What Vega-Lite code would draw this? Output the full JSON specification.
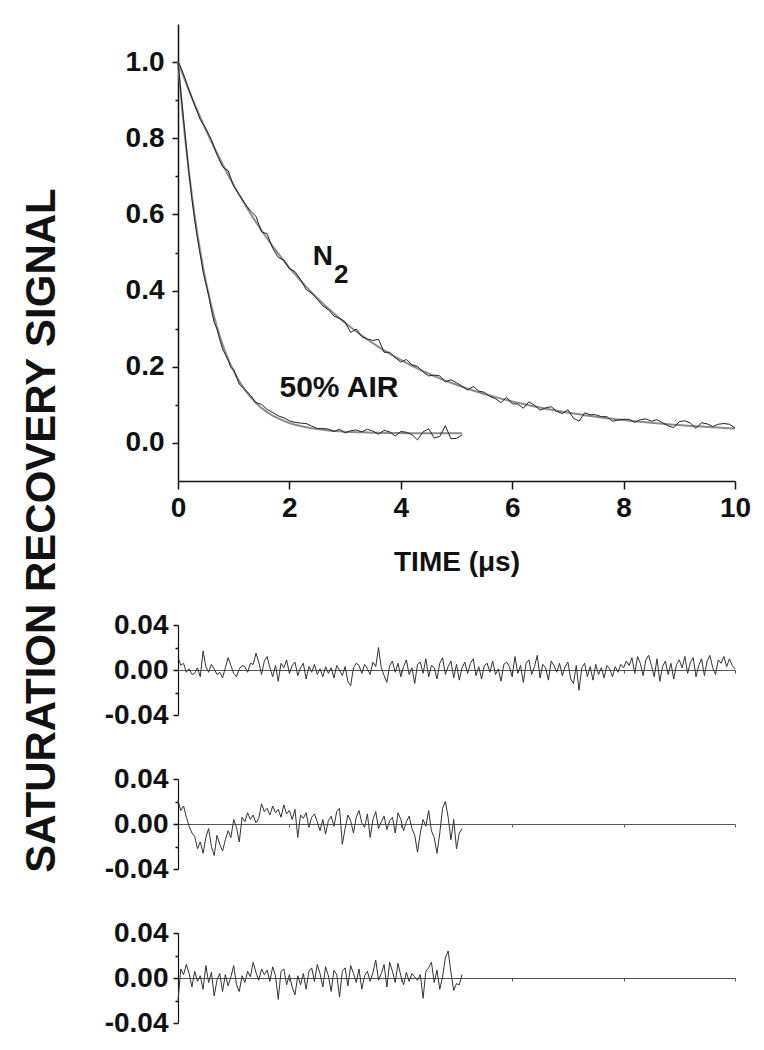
{
  "$schema": "https://vega.github.io/schema/vega-lite/v6.json",
  "background": "white",
  "padding": {"left": 21, "top": 24, "right": 5, "bottom": 5},
  "config": {
    "view": {"stroke": null},
    "font": "Liberation Sans",
    "axis": {
      "domainColor": "#111", "domainWidth": 1.5, "tickColor": "#111", "tickWidth": 1.5,
      "labelFont": "Liberation Sans", "labelFontSize": 28, "labelFontWeight": "bold", "labelColor": "#111",
      "titleFont": "Liberation Sans", "titleFontSize": 28, "titleFontWeight": "bold", "titleColor": "#111",
      "grid": false, "labelFlush": false, "labelOverlap": false
    }
  },
  "title": {"text": "SATURATION RECOVERY SIGNAL", "orient": "left", "anchor": "middle", "fontSize": 42, "fontWeight": "bold", "font": "Liberation Sans", "color": "#111", "offset": 40},
  "bounds": "flush",
  "spacing": 144,
  "datasets": {
    "n2": [
      {"t":0,"fit":1.0,"obs":1.004},{"t":0.1,"fit":0.9616,"obs":0.968},{"t":0.2,"fit":0.9247,"obs":0.926},{"t":0.3,"fit":0.8892,"obs":0.886},{"t":0.4,"fit":0.8551,"obs":0.849},
      {"t":0.5,"fit":0.8224,"obs":0.825},{"t":0.6,"fit":0.7909,"obs":0.796},{"t":0.7,"fit":0.7607,"obs":0.757},{"t":0.8,"fit":0.7316,"obs":0.725},{"t":0.9,"fit":0.7037,"obs":0.715},
      {"t":1.0,"fit":0.6769,"obs":0.674},{"t":1.1,"fit":0.6512,"obs":0.652},{"t":1.2,"fit":0.6264,"obs":0.629},{"t":1.3,"fit":0.6026,"obs":0.609},{"t":1.4,"fit":0.5798,"obs":0.595},
      {"t":1.5,"fit":0.5578,"obs":0.554},{"t":1.6,"fit":0.5367,"obs":0.549},{"t":1.7,"fit":0.5165,"obs":0.511},{"t":1.8,"fit":0.497,"obs":0.487},{"t":1.9,"fit":0.4783,"obs":0.48},
      {"t":2.0,"fit":0.4603,"obs":0.457},{"t":2.1,"fit":0.4431,"obs":0.45},{"t":2.2,"fit":0.4265,"obs":0.429},{"t":2.3,"fit":0.4105,"obs":0.403},{"t":2.4,"fit":0.3952,"obs":0.393},
      {"t":2.5,"fit":0.3805,"obs":0.377},{"t":2.6,"fit":0.3664,"obs":0.36},{"t":2.7,"fit":0.3528,"obs":0.35},{"t":2.8,"fit":0.3398,"obs":0.333},{"t":2.9,"fit":0.3272,"obs":0.327},
      {"t":3.0,"fit":0.3152,"obs":0.318},{"t":3.1,"fit":0.3036,"obs":0.29},{"t":3.2,"fit":0.2925,"obs":0.299},{"t":3.3,"fit":0.2818,"obs":0.279},{"t":3.4,"fit":0.2715,"obs":0.273},
      {"t":3.5,"fit":0.2617,"obs":0.269},{"t":3.6,"fit":0.2522,"obs":0.272},{"t":3.7,"fit":0.2431,"obs":0.238},{"t":3.8,"fit":0.2343,"obs":0.238},{"t":3.9,"fit":0.2259,"obs":0.224},
      {"t":4.0,"fit":0.2179,"obs":0.212},{"t":4.1,"fit":0.2101,"obs":0.219},{"t":4.2,"fit":0.2026,"obs":0.205},{"t":4.3,"fit":0.1955,"obs":0.201},{"t":4.4,"fit":0.1886,"obs":0.186},
      {"t":4.5,"fit":0.182,"obs":0.176},{"t":4.6,"fit":0.1756,"obs":0.178},{"t":4.7,"fit":0.1695,"obs":0.176},{"t":4.8,"fit":0.1637,"obs":0.16},{"t":4.9,"fit":0.158,"obs":0.166},
      {"t":5.0,"fit":0.1526,"obs":0.158},{"t":5.1,"fit":0.1474,"obs":0.149},{"t":5.2,"fit":0.1424,"obs":0.139},{"t":5.3,"fit":0.1376,"obs":0.148},{"t":5.4,"fit":0.133,"obs":0.136},
      {"t":5.5,"fit":0.1286,"obs":0.133},{"t":5.6,"fit":0.1243,"obs":0.122},{"t":5.7,"fit":0.1202,"obs":0.116},{"t":5.8,"fit":0.1163,"obs":0.106},{"t":5.9,"fit":0.1125,"obs":0.12},
      {"t":6.0,"fit":0.1089,"obs":0.103},{"t":6.1,"fit":0.1054,"obs":0.102},{"t":6.2,"fit":0.1021,"obs":0.091},{"t":6.3,"fit":0.0989,"obs":0.108},{"t":6.4,"fit":0.0958,"obs":0.099},
      {"t":6.5,"fit":0.0928,"obs":0.086},{"t":6.6,"fit":0.0899,"obs":0.092},{"t":6.7,"fit":0.0872,"obs":0.095},{"t":6.8,"fit":0.0846,"obs":0.083},{"t":6.9,"fit":0.082,"obs":0.077},
      {"t":7.0,"fit":0.0796,"obs":0.087},{"t":7.1,"fit":0.0773,"obs":0.065},{"t":7.2,"fit":0.075,"obs":0.057},{"t":7.3,"fit":0.0729,"obs":0.079},{"t":7.4,"fit":0.0708,"obs":0.074},
      {"t":7.5,"fit":0.0688,"obs":0.074},{"t":7.6,"fit":0.0669,"obs":0.069},{"t":7.7,"fit":0.065,"obs":0.069},{"t":7.8,"fit":0.0633,"obs":0.057},{"t":7.9,"fit":0.0616,"obs":0.06},
      {"t":8.0,"fit":0.0599,"obs":0.062},{"t":8.1,"fit":0.0584,"obs":0.062},{"t":8.2,"fit":0.0569,"obs":0.054},{"t":8.3,"fit":0.0554,"obs":0.061},{"t":8.4,"fit":0.054,"obs":0.063},
      {"t":8.5,"fit":0.0527,"obs":0.057},{"t":8.6,"fit":0.0514,"obs":0.061},{"t":8.7,"fit":0.0502,"obs":0.053},{"t":8.8,"fit":0.049,"obs":0.045},{"t":8.9,"fit":0.0479,"obs":0.04},
      {"t":9.0,"fit":0.0468,"obs":0.056},{"t":9.1,"fit":0.0457,"obs":0.058},{"t":9.2,"fit":0.0447,"obs":0.052},{"t":9.3,"fit":0.0437,"obs":0.038},{"t":9.4,"fit":0.0428,"obs":0.053},
      {"t":9.5,"fit":0.0419,"obs":0.05},{"t":9.6,"fit":0.0411,"obs":0.043},{"t":9.7,"fit":0.0402,"obs":0.049},{"t":9.8,"fit":0.0394,"obs":0.051},{"t":9.9,"fit":0.0387,"obs":0.049},
      {"t":10.0,"fit":0.038,"obs":0.039}
    ],
    "air": [
      {"t":0,"fit":1.0,"obs":1.0},{"t":0.05,"fit":0.9167,"obs":0.923},{"t":0.1,"fit":0.8405,"obs":0.849},{"t":0.15,"fit":0.7709,"obs":0.777},{"t":0.2,"fit":0.7072,"obs":0.705},
      {"t":0.25,"fit":0.6489,"obs":0.641},{"t":0.3,"fit":0.5956,"obs":0.585},{"t":0.35,"fit":0.5469,"obs":0.536},{"t":0.4,"fit":0.5023,"obs":0.494},{"t":0.45,"fit":0.4615,"obs":0.449},
      {"t":0.5,"fit":0.4242,"obs":0.418},{"t":0.55,"fit":0.3901,"obs":0.388},{"t":0.6,"fit":0.3589,"obs":0.349},{"t":0.65,"fit":0.3304,"obs":0.316},{"t":0.7,"fit":0.3043,"obs":0.299},
      {"t":0.75,"fit":0.2805,"obs":0.271},{"t":0.8,"fit":0.2587,"obs":0.247},{"t":0.85,"fit":0.2387,"obs":0.232},{"t":0.9,"fit":0.2204,"obs":0.217},{"t":0.95,"fit":0.2037,"obs":0.198},
      {"t":1.0,"fit":0.1885,"obs":0.193},{"t":1.1,"fit":0.1617,"obs":0.154},{"t":1.2,"fit":0.1394,"obs":0.141},{"t":1.3,"fit":0.1207,"obs":0.125},{"t":1.4,"fit":0.105,"obs":0.106},
      {"t":1.5,"fit":0.0919,"obs":0.101},{"t":1.6,"fit":0.081,"obs":0.088},{"t":1.7,"fit":0.0718,"obs":0.08},{"t":1.8,"fit":0.0642,"obs":0.071},{"t":1.9,"fit":0.0578,"obs":0.066},
      {"t":2.0,"fit":0.0524,"obs":0.058},{"t":2.1,"fit":0.0479,"obs":0.054},{"t":2.2,"fit":0.0442,"obs":0.052},{"t":2.3,"fit":0.0411,"obs":0.051},{"t":2.4,"fit":0.0384,"obs":0.044},
      {"t":2.5,"fit":0.0362,"obs":0.038},{"t":2.6,"fit":0.0344,"obs":0.038},{"t":2.7,"fit":0.0329,"obs":0.036},{"t":2.8,"fit":0.0316,"obs":0.03},{"t":2.9,"fit":0.0305,"obs":0.036},
      {"t":3.0,"fit":0.0296,"obs":0.026},{"t":3.1,"fit":0.0288,"obs":0.032},{"t":3.2,"fit":0.0282,"obs":0.034},{"t":3.3,"fit":0.0277,"obs":0.029},{"t":3.4,"fit":0.0273,"obs":0.036},
      {"t":3.5,"fit":0.0269,"obs":0.031},{"t":3.6,"fit":0.0266,"obs":0.023},{"t":3.7,"fit":0.0263,"obs":0.033},{"t":3.8,"fit":0.0261,"obs":0.029},{"t":3.9,"fit":0.0259,"obs":0.018},
      {"t":4.0,"fit":0.0258,"obs":0.03},{"t":4.1,"fit":0.0256,"obs":0.028},{"t":4.2,"fit":0.0255,"obs":0.022},{"t":4.3,"fit":0.0254,"obs":0.008},{"t":4.4,"fit":0.0254,"obs":0.029},
      {"t":4.5,"fit":0.0253,"obs":0.037},{"t":4.6,"fit":0.0253,"obs":0.013},{"t":4.7,"fit":0.0252,"obs":0.017},{"t":4.8,"fit":0.0252,"obs":0.045},{"t":4.9,"fit":0.0252,"obs":0.011},
      {"t":5.0,"fit":0.0251,"obs":0.012},{"t":5.1,"fit":0.0251,"obs":0.021}
    ],
    "r1": [
      {"t":0,"r":0.012},{"t":0.05,"r":0.004},{"t":0.1,"r":0.006},{"t":0.15,"r":-0.002},{"t":0.2,"r":0.001},{"t":0.25,"r":-0.004},{"t":0.3,"r":-0.003},{"t":0.35,"r":0.002},{"t":0.4,"r":-0.006},{"t":0.45,"r":0.017},
      {"t":0.5,"r":0.003},{"t":0.55,"r":-0.002},{"t":0.6,"r":0.005},{"t":0.65,"r":0.001},{"t":0.7,"r":-0.004},{"t":0.75,"r":-0.002},{"t":0.8,"r":-0.007},{"t":0.85,"r":0.002},{"t":0.9,"r":0.011},{"t":0.95,"r":0.004},
      {"t":1,"r":-0.003},{"t":1.05,"r":-0.006},{"t":1.1,"r":0.001},{"t":1.15,"r":0.004},{"t":1.2,"r":0.003},{"t":1.25,"r":-0.002},{"t":1.3,"r":0.006},{"t":1.35,"r":0.005},{"t":1.4,"r":0.015},{"t":1.45,"r":0.007},
      {"t":1.5,"r":-0.004},{"t":1.55,"r":0.008},{"t":1.6,"r":0.012},{"t":1.65,"r":0.002},{"t":1.7,"r":-0.006},{"t":1.75,"r":0.004},{"t":1.8,"r":-0.01},{"t":1.85,"r":0.006},{"t":1.9,"r":0.002},{"t":1.95,"r":0.009},
      {"t":2,"r":-0.003},{"t":2.05,"r":0.004},{"t":2.1,"r":0.007},{"t":2.15,"r":-0.005},{"t":2.2,"r":0.002},{"t":2.25,"r":0.006},{"t":2.3,"r":-0.008},{"t":2.35,"r":0.003},{"t":2.4,"r":-0.002},{"t":2.45,"r":0.005},
      {"t":2.5,"r":-0.004},{"t":2.55,"r":0.001},{"t":2.6,"r":-0.006},{"t":2.65,"r":0.003},{"t":2.7,"r":-0.003},{"t":2.75,"r":0.002},{"t":2.8,"r":-0.007},{"t":2.85,"r":0.004},{"t":2.9,"r":0.0},{"t":2.95,"r":-0.005},
      {"t":3,"r":0.003},{"t":3.05,"r":-0.01},{"t":3.1,"r":-0.014},{"t":3.15,"r":0.002},{"t":3.2,"r":0.006},{"t":3.25,"r":0.004},{"t":3.3,"r":-0.003},{"t":3.35,"r":0.005},{"t":3.4,"r":0.001},{"t":3.45,"r":-0.004},
      {"t":3.5,"r":0.007},{"t":3.55,"r":0.003},{"t":3.6,"r":0.02},{"t":3.65,"r":0.002},{"t":3.7,"r":-0.005},{"t":3.75,"r":-0.011},{"t":3.8,"r":0.004},{"t":3.85,"r":0.008},{"t":3.9,"r":-0.002},{"t":3.95,"r":0.006},
      {"t":4,"r":-0.006},{"t":4.05,"r":0.003},{"t":4.1,"r":0.009},{"t":4.15,"r":-0.004},{"t":4.2,"r":0.002},{"t":4.25,"r":-0.012},{"t":4.3,"r":0.005},{"t":4.35,"r":0.007},{"t":4.4,"r":-0.003},{"t":4.45,"r":0.01},
      {"t":4.5,"r":-0.006},{"t":4.55,"r":0.004},{"t":4.6,"r":0.002},{"t":4.65,"r":-0.008},{"t":4.7,"r":0.006},{"t":4.75,"r":0.011},{"t":4.8,"r":-0.004},{"t":4.85,"r":0.003},{"t":4.9,"r":0.008},{"t":4.95,"r":-0.007},
      {"t":5,"r":0.005},{"t":5.05,"r":-0.009},{"t":5.1,"r":0.002},{"t":5.15,"r":0.007},{"t":5.2,"r":-0.003},{"t":5.25,"r":0.006},{"t":5.3,"r":0.01},{"t":5.35,"r":-0.005},{"t":5.4,"r":0.003},{"t":5.45,"r":-0.008},
      {"t":5.5,"r":0.004},{"t":5.55,"r":0.006},{"t":5.6,"r":-0.002},{"t":5.65,"r":0.008},{"t":5.7,"r":-0.004},{"t":5.75,"r":0.001},{"t":5.8,"r":-0.01},{"t":5.85,"r":0.005},{"t":5.9,"r":0.007},{"t":5.95,"r":0.003},
      {"t":6,"r":-0.006},{"t":6.05,"r":0.012},{"t":6.1,"r":-0.003},{"t":6.15,"r":0.004},{"t":6.2,"r":-0.011},{"t":6.25,"r":0.006},{"t":6.3,"r":0.009},{"t":6.35,"r":-0.004},{"t":6.4,"r":0.003},{"t":6.45,"r":0.013},
      {"t":6.5,"r":-0.007},{"t":6.55,"r":0.005},{"t":6.6,"r":0.002},{"t":6.65,"r":-0.009},{"t":6.7,"r":0.008},{"t":6.75,"r":0.004},{"t":6.8,"r":-0.002},{"t":6.85,"r":0.006},{"t":6.9,"r":-0.005},{"t":6.95,"r":0.003},
      {"t":7,"r":0.007},{"t":7.05,"r":-0.008},{"t":7.1,"r":-0.012},{"t":7.15,"r":0.004},{"t":7.2,"r":-0.018},{"t":7.25,"r":0.002},{"t":7.3,"r":0.006},{"t":7.35,"r":-0.006},{"t":7.4,"r":0.003},{"t":7.45,"r":-0.009},
      {"t":7.5,"r":0.005},{"t":7.55,"r":-0.004},{"t":7.6,"r":0.002},{"t":7.65,"r":-0.007},{"t":7.7,"r":0.004},{"t":7.75,"r":0.001},{"t":7.8,"r":-0.006},{"t":7.85,"r":0.003},{"t":7.9,"r":-0.002},{"t":7.95,"r":0.005},
      {"t":8,"r":0.002},{"t":8.05,"r":0.008},{"t":8.1,"r":0.004},{"t":8.15,"r":0.011},{"t":8.2,"r":-0.003},{"t":8.25,"r":0.012},{"t":8.3,"r":0.006},{"t":8.35,"r":-0.005},{"t":8.4,"r":0.009},{"t":8.45,"r":0.013},
      {"t":8.5,"r":0.004},{"t":8.55,"r":-0.006},{"t":8.6,"r":0.01},{"t":8.65,"r":-0.01},{"t":8.7,"r":0.003},{"t":8.75,"r":0.008},{"t":8.8,"r":-0.004},{"t":8.85,"r":0.006},{"t":8.9,"r":-0.008},{"t":8.95,"r":0.005},
      {"t":9,"r":0.009},{"t":9.05,"r":0.002},{"t":9.1,"r":0.012},{"t":9.15,"r":-0.003},{"t":9.2,"r":0.007},{"t":9.25,"r":0.011},{"t":9.3,"r":-0.006},{"t":9.35,"r":0.004},{"t":9.4,"r":0.01},{"t":9.45,"r":-0.005},
      {"t":9.5,"r":0.008},{"t":9.55,"r":0.013},{"t":9.6,"r":0.002},{"t":9.65,"r":-0.004},{"t":9.7,"r":0.009},{"t":9.75,"r":0.006},{"t":9.8,"r":0.012},{"t":9.85,"r":0.003},{"t":9.9,"r":0.01},{"t":9.95,"r":0.004},
      {"t":10,"r":0.001}
    ],
    "r2": [
      {"t":0,"r":0.021},{"t":0.05,"r":0.012},{"t":0.1,"r":0.016},{"t":0.15,"r":0.006},{"t":0.2,"r":-0.002},{"t":0.25,"r":-0.008},{"t":0.3,"r":-0.011},{"t":0.35,"r":-0.022},{"t":0.4,"r":-0.016},{"t":0.45,"r":-0.026},
      {"t":0.5,"r":-0.012},{"t":0.55,"r":-0.004},{"t":0.6,"r":-0.02},{"t":0.65,"r":-0.028},{"t":0.7,"r":-0.01},{"t":0.75,"r":-0.018},{"t":0.8,"r":-0.024},{"t":0.85,"r":-0.014},{"t":0.9,"r":-0.006},{"t":0.95,"r":-0.012},
      {"t":1,"r":0.004},{"t":1.05,"r":-0.003},{"t":1.1,"r":-0.016},{"t":1.15,"r":0.006},{"t":1.2,"r":0.002},{"t":1.25,"r":0.01},{"t":1.3,"r":0.004},{"t":1.35,"r":0.008},{"t":1.4,"r":0.001},{"t":1.45,"r":0.005},
      {"t":1.5,"r":0.018},{"t":1.55,"r":0.011},{"t":1.6,"r":0.014},{"t":1.65,"r":0.008},{"t":1.7,"r":0.016},{"t":1.75,"r":0.01},{"t":1.8,"r":0.013},{"t":1.85,"r":0.006},{"t":1.9,"r":0.017},{"t":1.95,"r":0.009},
      {"t":2,"r":0.012},{"t":2.05,"r":0.004},{"t":2.1,"r":0.013},{"t":2.15,"r":-0.012},{"t":2.2,"r":0.008},{"t":2.25,"r":0.005},{"t":2.3,"r":0.01},{"t":2.35,"r":-0.003},{"t":2.4,"r":0.006},{"t":2.45,"r":0.009},
      {"t":2.5,"r":0.002},{"t":2.55,"r":-0.006},{"t":2.6,"r":0.004},{"t":2.65,"r":-0.009},{"t":2.7,"r":0.003},{"t":2.75,"r":0.007},{"t":2.8,"r":-0.002},{"t":2.85,"r":0.011},{"t":2.9,"r":0.014},{"t":2.95,"r":-0.018},
      {"t":3,"r":-0.004},{"t":3.05,"r":0.008},{"t":3.1,"r":0.003},{"t":3.15,"r":-0.008},{"t":3.2,"r":0.006},{"t":3.25,"r":0.012},{"t":3.3,"r":0.001},{"t":3.35,"r":-0.003},{"t":3.4,"r":0.009},{"t":3.45,"r":-0.012},
      {"t":3.5,"r":0.004},{"t":3.55,"r":0.011},{"t":3.6,"r":-0.004},{"t":3.65,"r":0.002},{"t":3.7,"r":0.007},{"t":3.75,"r":-0.005},{"t":3.8,"r":0.003},{"t":3.85,"r":0.006},{"t":3.9,"r":-0.008},{"t":3.95,"r":0.01},
      {"t":4,"r":0.004},{"t":4.05,"r":-0.006},{"t":4.1,"r":0.002},{"t":4.15,"r":0.007},{"t":4.2,"r":-0.004},{"t":4.25,"r":-0.01},{"t":4.3,"r":-0.025},{"t":4.35,"r":-0.008},{"t":4.4,"r":0.004},{"t":4.45,"r":-0.002},
      {"t":4.5,"r":0.012},{"t":4.55,"r":-0.006},{"t":4.6,"r":-0.012},{"t":4.65,"r":-0.026},{"t":4.7,"r":-0.008},{"t":4.75,"r":0.014},{"t":4.8,"r":0.02},{"t":4.85,"r":0.006},{"t":4.9,"r":-0.014},{"t":4.95,"r":0.004},
      {"t":5,"r":-0.022},{"t":5.05,"r":-0.008},{"t":5.1,"r":-0.004}
    ],
    "r3": [
      {"t":0,"r":-0.02},{"t":0.05,"r":0.008},{"t":0.1,"r":0.003},{"t":0.15,"r":0.012},{"t":0.2,"r":0.004},{"t":0.25,"r":-0.008},{"t":0.3,"r":0.006},{"t":0.35,"r":-0.003},{"t":0.4,"r":0.002},{"t":0.45,"r":-0.01},
      {"t":0.5,"r":0.011},{"t":0.55,"r":-0.004},{"t":0.6,"r":0.005},{"t":0.65,"r":-0.016},{"t":0.7,"r":-0.002},{"t":0.75,"r":0.004},{"t":0.8,"r":-0.012},{"t":0.85,"r":0.003},{"t":0.9,"r":-0.007},{"t":0.95,"r":0.001},
      {"t":1,"r":0.011},{"t":1.05,"r":-0.006},{"t":1.1,"r":-0.012},{"t":1.15,"r":0.002},{"t":1.2,"r":-0.004},{"t":1.25,"r":0.006},{"t":1.3,"r":0.001},{"t":1.35,"r":0.014},{"t":1.4,"r":0.005},{"t":1.45,"r":-0.002},
      {"t":1.5,"r":0.008},{"t":1.55,"r":0.003},{"t":1.6,"r":0.007},{"t":1.65,"r":-0.003},{"t":1.7,"r":0.01},{"t":1.75,"r":0.002},{"t":1.8,"r":-0.019},{"t":1.85,"r":0.006},{"t":1.9,"r":0.008},{"t":1.95,"r":-0.006},
      {"t":2,"r":0.003},{"t":2.05,"r":-0.008},{"t":2.1,"r":-0.015},{"t":2.15,"r":0.002},{"t":2.2,"r":-0.006},{"t":2.25,"r":0.004},{"t":2.3,"r":-0.01},{"t":2.35,"r":0.006},{"t":2.4,"r":0.009},{"t":2.45,"r":-0.003},
      {"t":2.5,"r":0.012},{"t":2.55,"r":0.004},{"t":2.6,"r":-0.008},{"t":2.65,"r":0.01},{"t":2.7,"r":0.002},{"t":2.75,"r":-0.012},{"t":2.8,"r":0.007},{"t":2.85,"r":0.003},{"t":2.9,"r":-0.017},{"t":2.95,"r":0.006},
      {"t":3,"r":0.009},{"t":3.05,"r":-0.007},{"t":3.1,"r":0.011},{"t":3.15,"r":0.004},{"t":3.2,"r":-0.004},{"t":3.25,"r":0.008},{"t":3.3,"r":-0.01},{"t":3.35,"r":0.002},{"t":3.4,"r":0.006},{"t":3.45,"r":-0.003},
      {"t":3.5,"r":0.005},{"t":3.55,"r":0.016},{"t":3.6,"r":-0.002},{"t":3.65,"r":0.004},{"t":3.7,"r":0.012},{"t":3.75,"r":-0.008},{"t":3.8,"r":0.014},{"t":3.85,"r":0.006},{"t":3.9,"r":-0.004},{"t":3.95,"r":0.013},
      {"t":4,"r":0.002},{"t":4.05,"r":-0.006},{"t":4.1,"r":0.005},{"t":4.15,"r":-0.003},{"t":4.2,"r":0.004},{"t":4.25,"r":0.001},{"t":4.3,"r":-0.002},{"t":4.35,"r":0.003},{"t":4.4,"r":-0.018},{"t":4.45,"r":0.006},
      {"t":4.5,"r":0.009},{"t":4.55,"r":0.014},{"t":4.6,"r":-0.004},{"t":4.65,"r":0.007},{"t":4.7,"r":-0.01},{"t":4.75,"r":0.001},{"t":4.8,"r":0.018},{"t":4.85,"r":0.024},{"t":4.9,"r":0.005},{"t":4.95,"r":-0.011},
      {"t":5,"r":-0.005},{"t":5.05,"r":-0.006},{"t":5.1,"r":0.003}
    ]
  },
  "vconcat": [
    {
      "width": 557,
      "height": 457,
      "layer": [
        {"data": {"name": "n2"}, "mark": {"type": "line", "color": "#8c8c8c", "strokeWidth": 2},
         "encoding": {
           "x": {"field": "t", "type": "quantitative", "title": "TIME (μs)",
                 "scale": {"domain": [0, 10], "nice": false, "zero": false},
                 "axis": {"values": [0, 2, 4, 6, 8, 10], "tickSize": 8, "labelPadding": 5, "titlePadding": 26}},
           "y": {"field": "fit", "type": "quantitative", "title": null,
                 "scale": {"domain": [-0.1, 1.1], "nice": false, "zero": false},
                 "axis": {"values": [0, 0.1, 0.2, 0.3, 0.4, 0.5, 0.6, 0.7, 0.8, 0.9, 1.0], "format": ".1f",
                          "labelExpr": "round(datum.value*10) % 2 == 1 ? '' : datum.label",
                          "tickSize": {"condition": {"test": "round(datum.value*10) % 2 == 1", "value": 3}, "value": 6},
                          "labelPadding": 8}}}},
        {"data": {"name": "n2"}, "mark": {"type": "line", "color": "#222", "strokeWidth": 1},
         "encoding": {"x": {"field": "t", "type": "quantitative", "title": "TIME (μs)"},
                      "y": {"field": "obs", "type": "quantitative", "title": null}}},
        {"data": {"name": "air"}, "mark": {"type": "line", "color": "#8c8c8c", "strokeWidth": 2},
         "encoding": {"x": {"field": "t", "type": "quantitative", "title": "TIME (μs)"},
                      "y": {"field": "fit", "type": "quantitative", "title": null}}},
        {"data": {"name": "air"}, "mark": {"type": "line", "color": "#222", "strokeWidth": 1},
         "encoding": {"x": {"field": "t", "type": "quantitative", "title": "TIME (μs)"},
                      "y": {"field": "obs", "type": "quantitative", "title": null}}},
        {"data": {"values": [{"label": "N"}]},
         "mark": {"type": "text", "fontSize": 28, "fontWeight": "bold", "font": "Liberation Sans", "color": "#111", "align": "center", "baseline": "alphabetic"},
         "encoding": {"x": {"datum": 2.6, "type": "quantitative", "title": "TIME (μs)"}, "y": {"datum": 0.467, "type": "quantitative", "title": null},
                      "text": {"field": "label", "type": "nominal"}}},
        {"data": {"values": [{"label": "2"}]},
         "mark": {"type": "text", "fontSize": 26, "fontWeight": "bold", "font": "Liberation Sans", "color": "#111", "align": "center", "baseline": "alphabetic"},
         "encoding": {"x": {"datum": 2.93, "type": "quantitative", "title": "TIME (μs)"}, "y": {"datum": 0.42, "type": "quantitative", "title": null},
                      "text": {"field": "label", "type": "nominal"}}},
        {"data": {"values": [{"label": "50% AIR"}]},
         "mark": {"type": "text", "fontSize": 30, "fontWeight": "bold", "font": "Liberation Sans", "color": "#111", "align": "center", "baseline": "alphabetic"},
         "encoding": {"x": {"datum": 2.89, "type": "quantitative", "title": "TIME (μs)"}, "y": {"datum": 0.121, "type": "quantitative", "title": null},
                      "text": {"field": "label", "type": "nominal"}}}
      ]
    },
    {
      "bounds": "flush",
      "spacing": 64,
      "vconcat": [
        {
          "width": 557, "height": 90,
          "data": {"name": "r1"},
          "mark": {"type": "line", "color": "#333", "strokeWidth": 1},
          "encoding": {
            "x": {"field": "t", "type": "quantitative", "title": null, "scale": {"domain": [0, 10], "nice": false, "zero": false},
                  "axis": {"orient": "bottom", "offset": -45, "values": [0, 2, 4, 6, 8, 10], "labels": false, "tickSize": 3, "domainWidth": 1.2, "domainColor": "#555", "tickColor": "#555", "tickWidth": 1}},
            "y": {"field": "r", "type": "quantitative", "title": null, "scale": {"domain": [-0.04, 0.04], "nice": false, "zero": false},
                  "axis": {"values": [-0.04, -0.02, 0, 0.02, 0.04], "format": ".2f",
                           "labelExpr": "abs(datum.value) > 0.01 && abs(datum.value) < 0.03 ? '' : replace(datum.label, '−', '-')",
                           "tickSize": {"condition": {"test": "abs(datum.value) > 0.01 && abs(datum.value) < 0.03", "value": 3}, "value": 5},
                           "labelPadding": 5, "domainWidth": 1.2}}
          }
        },
        {
          "width": 557, "height": 90,
          "data": {"name": "r2"},
          "mark": {"type": "line", "color": "#333", "strokeWidth": 1},
          "encoding": {
            "x": {"field": "t", "type": "quantitative", "title": null, "scale": {"domain": [0, 10], "nice": false, "zero": false},
                  "axis": {"orient": "bottom", "offset": -45, "values": [0, 2, 4, 6, 8, 10], "labels": false, "tickSize": 3, "domainWidth": 1.2, "domainColor": "#555", "tickColor": "#555", "tickWidth": 1}},
            "y": {"field": "r", "type": "quantitative", "title": null, "scale": {"domain": [-0.04, 0.04], "nice": false, "zero": false},
                  "axis": {"values": [-0.04, -0.02, 0, 0.02, 0.04], "format": ".2f",
                           "labelExpr": "abs(datum.value) > 0.01 && abs(datum.value) < 0.03 ? '' : replace(datum.label, '−', '-')",
                           "tickSize": {"condition": {"test": "abs(datum.value) > 0.01 && abs(datum.value) < 0.03", "value": 3}, "value": 5},
                           "labelPadding": 5, "domainWidth": 1.2}}
          }
        },
        {
          "width": 557, "height": 90,
          "data": {"name": "r3"},
          "mark": {"type": "line", "color": "#333", "strokeWidth": 1},
          "encoding": {
            "x": {"field": "t", "type": "quantitative", "title": null, "scale": {"domain": [0, 10], "nice": false, "zero": false},
                  "axis": {"orient": "bottom", "offset": -45, "values": [0, 2, 4, 6, 8, 10], "labels": false, "tickSize": 3, "domainWidth": 1.2, "domainColor": "#555", "tickColor": "#555", "tickWidth": 1}},
            "y": {"field": "r", "type": "quantitative", "title": null, "scale": {"domain": [-0.04, 0.04], "nice": false, "zero": false},
                  "axis": {"values": [-0.04, -0.02, 0, 0.02, 0.04], "format": ".2f",
                           "labelExpr": "abs(datum.value) > 0.01 && abs(datum.value) < 0.03 ? '' : replace(datum.label, '−', '-')",
                           "tickSize": {"condition": {"test": "abs(datum.value) > 0.01 && abs(datum.value) < 0.03", "value": 3}, "value": 5},
                           "labelPadding": 5, "domainWidth": 1.2}}
          }
        }
      ]
    }
  ]
}
